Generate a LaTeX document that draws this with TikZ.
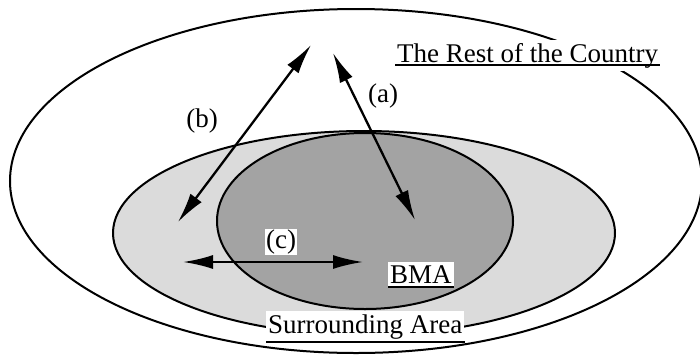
\documentclass[tikz,border=0pt]{standalone}
\usepackage{fontspec}
\setmainfont{Liberation Serif}
\usetikzlibrary{arrows.meta}
\definecolor{surrfill}{gray}{0.86}
\definecolor{bmafill}{gray}{0.64}
\begin{document}
\begin{tikzpicture}[x=1pt,y=-1pt,
  region/.style={draw=black,line width=2pt},
  flow/.style={line width=2.3pt,{Latex[length=30pt,width=14pt]}-{Latex[length=30pt,width=14pt]}},
  lbl/.style={font=\fontsize{27}{30}\selectfont,inner sep=1pt},
  title/.style={lbl,fill=white,inner xsep=2pt,inner ysep=3pt,anchor=base west},
  uline/.style={line width=1.4pt}]
\useasboundingbox (0,0) rectangle (700,359);
% regions
\path[region] (356,181) ellipse [x radius=346pt,y radius=172pt];
\path[region,fill=surrfill] (364,233) ellipse [x radius=251pt,y radius=102pt];
\path[region,fill=bmafill] (365,221) ellipse [x radius=148pt,y radius=88pt];
% arrow ends
\coordinate (aTop) at (333,53);
\coordinate (aBot) at (415,220);
\coordinate (bTop) at (311,45);
\coordinate (bBot) at (178,222);
\coordinate (cL) at (183,262);
\coordinate (cR) at (363,262);
\draw[flow] (aTop) -- (aBot);
\draw[flow] (bTop) -- (bBot);
\draw[flow] (cL) -- (cR);
% labels
\node[lbl] (la) at (383,96) {(a)};
\node[lbl] (lb) at (202,121) {(b)};
\node[lbl,fill=white] (lc) at (281,242) {(c)};
\node[title] (rest) at (395,62) {The Rest of the Country};
\node[title] (surr) at (266,333) {Surrounding Area};
\node[title] (bma) at (388,283) {BMA};
\draw[uline] ([yshift=-3pt]rest.base west) -- ([yshift=-3pt]rest.base east);
\draw[uline] ([yshift=-9pt]surr.base west) -- ([yshift=-9pt]surr.base east);
\draw[uline] ([yshift=-4pt]bma.base west) -- ([yshift=-4pt]bma.base east);
\end{tikzpicture}
\end{document}
